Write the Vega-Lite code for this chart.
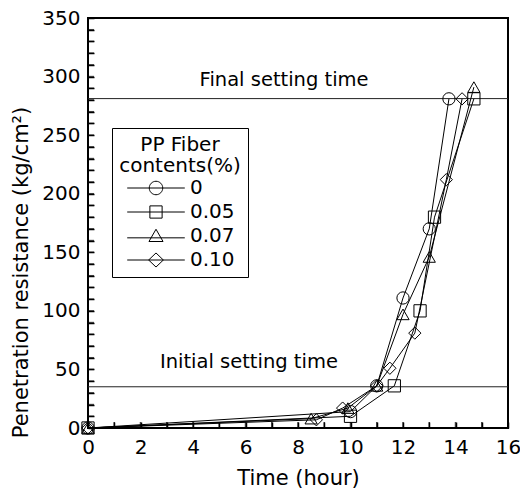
{
  "$schema": "https://vega.github.io/schema/vega-lite/v6.json",
  "width": 420,
  "height": 410,
  "autosize": "none",
  "padding": {"left": 88, "top": 18, "right": 12, "bottom": 61},
  "background": "white",
  "config": {
    "font": "DejaVu Sans",
    "view": {"stroke": "black", "strokeWidth": 2},
    "axis": {
      "grid": false,
      "domain": false,
      "ticks": true,
      "tickColor": "black",
      "tickWidth": 1.5,
      "tickSize": 6,
      "offset": -6,
      "labelColor": "black",
      "titleColor": "black",
      "labelFont": "DejaVu Sans",
      "titleFont": "DejaVu Sans",
      "labelFontSize": 20,
      "titleFontSize": 21,
      "titleFontWeight": "normal",
      "labelFlush": false,
      "labelOverlap": false
    }
  },
  "datasets": {
    "curves": [
      {"fiber": "0", "time": 0, "resistance": 0},
      {"fiber": "0", "time": 10, "resistance": 14},
      {"fiber": "0", "time": 11, "resistance": 36},
      {"fiber": "0", "time": 12, "resistance": 111},
      {"fiber": "0", "time": 13, "resistance": 170},
      {"fiber": "0", "time": 13.75, "resistance": 281},
      {"fiber": "0.05", "time": 0, "resistance": 0},
      {"fiber": "0.05", "time": 10, "resistance": 10},
      {"fiber": "0.05", "time": 11.67, "resistance": 36},
      {"fiber": "0.05", "time": 12.65, "resistance": 100},
      {"fiber": "0.05", "time": 13.2, "resistance": 180},
      {"fiber": "0.05", "time": 14.7, "resistance": 281},
      {"fiber": "0.07", "time": 0, "resistance": 0},
      {"fiber": "0.07", "time": 8.5, "resistance": 8},
      {"fiber": "0.07", "time": 9.9, "resistance": 17},
      {"fiber": "0.07", "time": 11, "resistance": 36},
      {"fiber": "0.07", "time": 12, "resistance": 97},
      {"fiber": "0.07", "time": 13, "resistance": 146},
      {"fiber": "0.07", "time": 14.7, "resistance": 291},
      {"fiber": "0.10", "time": 0, "resistance": 0},
      {"fiber": "0.10", "time": 8.7, "resistance": 7},
      {"fiber": "0.10", "time": 9.7, "resistance": 17},
      {"fiber": "0.10", "time": 11, "resistance": 36},
      {"fiber": "0.10", "time": 11.5, "resistance": 51},
      {"fiber": "0.10", "time": 12.45, "resistance": 81},
      {"fiber": "0.10", "time": 13.65, "resistance": 212},
      {"fiber": "0.10", "time": 14.25, "resistance": 281}
    ],
    "limits": [
      {"label": "Initial setting time", "level": 35.2, "time": 6.13, "resistance": 51},
      {"label": "Final setting time", "level": 281.2, "time": 7.47, "resistance": 292}
    ],
    "hourTicks": [
      {"time": 0}, {"time": 1}, {"time": 2}, {"time": 3}, {"time": 4}, {"time": 5}, {"time": 6}, {"time": 7}, {"time": 8},
      {"time": 9}, {"time": 10}, {"time": 11}, {"time": 12}, {"time": 13}, {"time": 14}, {"time": 15}, {"time": 16}
    ],
    "resistanceTicks": [
      {"resistance": 0}, {"resistance": 10}, {"resistance": 20}, {"resistance": 30}, {"resistance": 40}, {"resistance": 50},
      {"resistance": 60}, {"resistance": 70}, {"resistance": 80}, {"resistance": 90}, {"resistance": 100}, {"resistance": 110},
      {"resistance": 120}, {"resistance": 130}, {"resistance": 140}, {"resistance": 150}, {"resistance": 160}, {"resistance": 170},
      {"resistance": 180}, {"resistance": 190}, {"resistance": 200}, {"resistance": 210}, {"resistance": 220}, {"resistance": 230},
      {"resistance": 240}, {"resistance": 250}, {"resistance": 260}, {"resistance": 270}, {"resistance": 280}, {"resistance": 290},
      {"resistance": 300}, {"resistance": 310}, {"resistance": 320}, {"resistance": 330}, {"resistance": 340}, {"resistance": 350}
    ]
  },
  "layer": [
    {
      "data": {"name": "limits"},
      "mark": {"type": "rule", "color": "#222222", "strokeWidth": 1},
      "encoding": {
        "y": {
          "field": "level", "type": "quantitative", "scale": {"domain": [0, 350]}, "title": "Penetration resistance (kg/cm²)",
          "axis": {
            "values": [0, 10, 20, 30, 40, 50, 60, 70, 80, 90, 100, 110, 120, 130, 140, 150, 160, 170, 180, 190, 200, 210, 220, 230, 240, 250, 260, 270, 280, 290, 300, 310, 320, 330, 340, 350],
            "labelExpr": "datum.value % 50 === 0 ? datum.label : ''",
            "ticks": true, "tickSize": 6, "offset": -6, "labelOverlap": false, "labelPadding": 8,
            "titleX": -63, "titleY": 254
          }
        }
      }
    },
    {
      "data": {"name": "hourTicks"},
      "mark": {"type": "tick", "orient": "vertical", "color": "black", "size": 12, "thickness": 1.5, "clip": true},
      "encoding": {
        "x": {
          "field": "time", "type": "quantitative", "scale": {"domain": [0, 16]}, "title": "Time (hour)",
          "axis": {
            "values": [0, 1, 2, 3, 4, 5, 6, 7, 8, 9, 10, 11, 12, 13, 14, 15, 16],
            "labelExpr": "datum.value % 2 === 0 ? datum.label : ''",
            "ticks": true, "tickSize": 6, "offset": -6, "labelOverlap": false, "labelPadding": 9,
            "titleY": 45
          }
        },
        "y": {
          "datum": 0, "type": "quantitative", "scale": {"domain": [0, 350]}, "title": "Penetration resistance (kg/cm²)",
          "axis": {
            "values": [0, 10, 20, 30, 40, 50, 60, 70, 80, 90, 100, 110, 120, 130, 140, 150, 160, 170, 180, 190, 200, 210, 220, 230, 240, 250, 260, 270, 280, 290, 300, 310, 320, 330, 340, 350],
            "labelExpr": "datum.value % 50 === 0 ? datum.label : ''",
            "ticks": true, "tickSize": 6, "offset": -6, "labelOverlap": false, "labelPadding": 8,
            "titleX": -63, "titleY": 254
          }
        }
      }
    },
    {
      "data": {"name": "resistanceTicks"},
      "mark": {"type": "tick", "orient": "horizontal", "color": "black", "size": 12, "thickness": 1.5, "clip": true},
      "encoding": {
        "x": {
          "datum": 0, "type": "quantitative", "scale": {"domain": [0, 16]}, "title": "Time (hour)",
          "axis": {
            "values": [0, 1, 2, 3, 4, 5, 6, 7, 8, 9, 10, 11, 12, 13, 14, 15, 16],
            "labelExpr": "datum.value % 2 === 0 ? datum.label : ''",
            "ticks": true, "tickSize": 6, "offset": -6, "labelOverlap": false, "labelPadding": 9,
            "titleY": 45
          }
        },
        "y": {
          "field": "resistance", "type": "quantitative", "scale": {"domain": [0, 350]}, "title": "Penetration resistance (kg/cm²)",
          "axis": {
            "values": [0, 10, 20, 30, 40, 50, 60, 70, 80, 90, 100, 110, 120, 130, 140, 150, 160, 170, 180, 190, 200, 210, 220, 230, 240, 250, 260, 270, 280, 290, 300, 310, 320, 330, 340, 350],
            "labelExpr": "datum.value % 50 === 0 ? datum.label : ''",
            "ticks": true, "tickSize": 6, "offset": -6, "labelOverlap": false, "labelPadding": 8,
            "titleX": -63, "titleY": 254
          }
        }
      }
    },
    {
      "data": {"name": "limits"},
      "mark": {"type": "text", "font": "DejaVu Sans", "fontSize": 19.5, "align": "center", "baseline": "alphabetic", "color": "black"},
      "encoding": {
        "x": {
          "field": "time", "type": "quantitative", "scale": {"domain": [0, 16]}, "title": "Time (hour)",
          "axis": {
            "values": [0, 1, 2, 3, 4, 5, 6, 7, 8, 9, 10, 11, 12, 13, 14, 15, 16],
            "labelExpr": "datum.value % 2 === 0 ? datum.label : ''",
            "ticks": true, "tickSize": 6, "offset": -6, "labelOverlap": false, "labelPadding": 9,
            "titleY": 45
          }
        },
        "y": {
          "field": "resistance", "type": "quantitative", "scale": {"domain": [0, 350]}, "title": "Penetration resistance (kg/cm²)",
          "axis": {
            "values": [0, 10, 20, 30, 40, 50, 60, 70, 80, 90, 100, 110, 120, 130, 140, 150, 160, 170, 180, 190, 200, 210, 220, 230, 240, 250, 260, 270, 280, 290, 300, 310, 320, 330, 340, 350],
            "labelExpr": "datum.value % 50 === 0 ? datum.label : ''",
            "ticks": true, "tickSize": 6, "offset": -6, "labelOverlap": false, "labelPadding": 8,
            "titleX": -63, "titleY": 254
          }
        },
        "text": {"field": "label"}
      }
    },
    {
      "data": {"name": "curves"},
      "mark": {"type": "line", "color": "black", "strokeWidth": 1},
      "encoding": {
        "x": {
          "field": "time", "type": "quantitative", "scale": {"domain": [0, 16]}, "title": "Time (hour)",
          "axis": {
            "values": [0, 1, 2, 3, 4, 5, 6, 7, 8, 9, 10, 11, 12, 13, 14, 15, 16],
            "labelExpr": "datum.value % 2 === 0 ? datum.label : ''",
            "ticks": true, "tickSize": 6, "offset": -6, "labelOverlap": false, "labelPadding": 9,
            "titleY": 45
          }
        },
        "y": {
          "field": "resistance", "type": "quantitative", "scale": {"domain": [0, 350]}, "title": "Penetration resistance (kg/cm²)",
          "axis": {
            "values": [0, 10, 20, 30, 40, 50, 60, 70, 80, 90, 100, 110, 120, 130, 140, 150, 160, 170, 180, 190, 200, 210, 220, 230, 240, 250, 260, 270, 280, 290, 300, 310, 320, 330, 340, 350],
            "labelExpr": "datum.value % 50 === 0 ? datum.label : ''",
            "ticks": true, "tickSize": 6, "offset": -6, "labelOverlap": false, "labelPadding": 8,
            "titleX": -63, "titleY": 254
          }
        },
        "detail": {"field": "fiber", "type": "nominal"}
      }
    },
    {
      "data": {"name": "curves"},
      "mark": {"type": "point", "filled": false, "stroke": "black", "strokeWidth": 1, "size": 150, "opacity": 1},
      "encoding": {
        "x": {
          "field": "time", "type": "quantitative", "scale": {"domain": [0, 16]}, "title": "Time (hour)",
          "axis": {
            "values": [0, 1, 2, 3, 4, 5, 6, 7, 8, 9, 10, 11, 12, 13, 14, 15, 16],
            "labelExpr": "datum.value % 2 === 0 ? datum.label : ''",
            "ticks": true, "tickSize": 6, "offset": -6, "labelOverlap": false, "labelPadding": 9,
            "titleY": 45
          }
        },
        "y": {
          "field": "resistance", "type": "quantitative", "scale": {"domain": [0, 350]}, "title": "Penetration resistance (kg/cm²)",
          "axis": {
            "values": [0, 10, 20, 30, 40, 50, 60, 70, 80, 90, 100, 110, 120, 130, 140, 150, 160, 170, 180, 190, 200, 210, 220, 230, 240, 250, 260, 270, 280, 290, 300, 310, 320, 330, 340, 350],
            "labelExpr": "datum.value % 50 === 0 ? datum.label : ''",
            "ticks": true, "tickSize": 6, "offset": -6, "labelOverlap": false, "labelPadding": 8,
            "titleX": -63, "titleY": 254
          }
        },
        "shape": {
          "field": "fiber", "type": "nominal",
          "scale": {"domain": ["0", "0.05", "0.07", "0.10"], "range": ["circle", "square", "triangle-up", "diamond"]},
          "legend": null
        }
      }
    },
    {
      "data": {"name": "curves"},
      "mark": {"type": "point", "filled": false, "stroke": "black", "strokeWidth": 1, "size": 150, "opacity": 0},
      "encoding": {
        "x": {
          "field": "time", "type": "quantitative", "scale": {"domain": [0, 16]}, "title": "Time (hour)",
          "axis": {
            "values": [0, 1, 2, 3, 4, 5, 6, 7, 8, 9, 10, 11, 12, 13, 14, 15, 16],
            "labelExpr": "datum.value % 2 === 0 ? datum.label : ''",
            "ticks": true, "tickSize": 6, "offset": -6, "labelOverlap": false, "labelPadding": 9,
            "titleY": 45
          }
        },
        "y": {
          "field": "resistance", "type": "quantitative", "scale": {"domain": [0, 350]}, "title": "Penetration resistance (kg/cm²)",
          "axis": {
            "values": [0, 10, 20, 30, 40, 50, 60, 70, 80, 90, 100, 110, 120, 130, 140, 150, 160, 170, 180, 190, 200, 210, 220, 230, 240, 250, 260, 270, 280, 290, 300, 310, 320, 330, 340, 350],
            "labelExpr": "datum.value % 50 === 0 ? datum.label : ''",
            "ticks": true, "tickSize": 6, "offset": -6, "labelOverlap": false, "labelPadding": 8,
            "titleX": -63, "titleY": 254
          }
        },
        "shape": {
          "field": "fiber", "type": "nominal",
          "scale": {
            "domain": ["0", "0.05", "0.07", "0.10"],
            "range": [
              "M-4.7,0H4.7M-1.1,0A1.1,1.1,0,1,1,1.1,0A1.1,1.1,0,1,1,-1.1,0Z",
              "M-4.7,0H4.7M-1,-1H1V1H-1Z",
              "M-4.7,0.3H4.7M0,-1.1L1.15,0.9L-1.15,0.9Z",
              "M-4.7,0H4.7M-1.2,0L0,-1.15L1.2,0L0,1.15Z"
            ]
          },
          "legend": {
            "orient": "none",
            "legendX": 24,
            "legendY": 110,
            "title": ["PP Fiber", "contents(%)"],
            "titleFont": "DejaVu Sans",
            "titleFontSize": 20,
            "titleFontWeight": "normal",
            "titleColor": "black",
            "titleAlign": "center",
            "titleAnchor": "middle",
            "titleLineHeight": 21,
            "titlePadding": 2,
            "labelFont": "DejaVu Sans",
            "labelFontSize": 20,
            "labelColor": "black",
            "padding": 7,
            "strokeColor": "black",
            "fillColor": "white",
            "symbolSize": 150,
            "symbolStrokeColor": "black",
            "symbolStrokeWidth": 1,
            "symbolFillColor": "transparent",
            "symbolOpacity": 1,
            "symbolOffset": 21,
            "labelOffset": 24,
            "rowPadding": 4
          }
        }
      }
    }
  ],
  "resolve": {"scale": {"shape": "independent"}, "legend": {"shape": "independent"}}
}
